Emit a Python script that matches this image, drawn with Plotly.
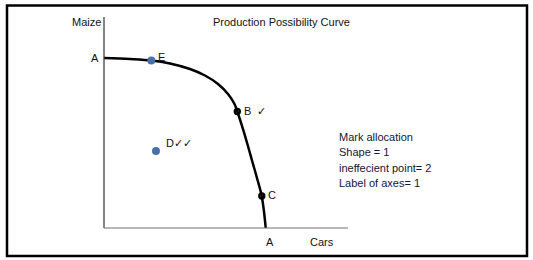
import plotly.graph_objects as go

# Production possibility curve (Cars on x, Maize on y)
curve_cars = [0.0, 1.066, 1.955, 2.705, 3.525, 4.139, 4.672, 5.082, 5.348, 5.463,
              5.684, 5.889, 6.078, 6.270, 6.455, 6.557, 6.627]
curve_maize = [8.057, 8.009, 7.938, 7.796, 7.536, 7.227, 6.825, 6.351, 5.877, 5.521,
               4.739, 3.934, 3.152, 2.370, 1.564, 0.782, 0.0]

# points on the curve
on_names = ["B", "C"]
on_cars = [5.463, 6.467]
on_maize = [5.521, 1.517]

# blue points
blue_names = ["E", "D"]
blue_cars = [1.94, 2.13]
blue_maize = [7.94, 3.65]

axis_max_cars = 10.0
axis_max_maize = 10.0

notes = ["Mark allocation", "Shape = 1", "ineffecient point= 2", "Label of axes= 1"]

FONT = "Liberation Sans"
fig = go.Figure()

fig.add_trace(go.Scatter(x=curve_cars, y=curve_maize, mode="lines",
                         line=dict(color="black", width=2.5, shape="spline", smoothing=1.0),
                         hoverinfo="skip"))
fig.add_trace(go.Scatter(x=on_cars, y=on_maize, mode="markers",
                         marker=dict(symbol="circle-open", size=5, color="black",
                                     line=dict(color="black", width=2.4))))
fig.add_trace(go.Scatter(x=blue_cars, y=blue_maize, mode="markers",
                         marker=dict(symbol="circle", size=8, color="#4a70a8")))

# axes lines
fig.add_shape(type="line", x0=0, y0=0, x1=0, y1=axis_max_maize,
              line=dict(color="#333333", width=1.2))
fig.add_shape(type="line", x0=0, y0=0, x1=axis_max_cars, y1=0,
              line=dict(color="#707070", width=1.2))

# frame
fig.add_shape(type="rect", xref="paper", yref="paper",
              x0=7/533, x1=527/533, y0=1-256/260, y1=1-5.5/260,
              line=dict(color="black", width=2.5))

ann = []
tf = dict(family=FONT, size=11, color="#111111")
base = dict(showarrow=False, font=tf, yanchor="middle")
# A on maize axis
ann.append(dict(base, x=curve_cars[0], y=curve_maize[0], text="A", xanchor="right", xshift=-3))
# A on cars axis
ann.append(dict(base, x=curve_cars[-1], y=curve_maize[-1], text="A", xanchor="center", xshift=4, yshift=-14))
# E
ann.append(dict(base, x=blue_cars[0], y=blue_maize[0], text="E", xanchor="left", xshift=5, yshift=3))
# D with ticks
ann.append(dict(base, x=blue_cars[1], y=blue_maize[1], text="D✓✓", xanchor="left", xshift=8, yshift=8))
# B with tick
ann.append(dict(base, x=on_cars[0], y=on_maize[0], text="B  ✓", xanchor="left", xshift=5, yshift=1))
# C
ann.append(dict(base, x=on_cars[1], y=on_maize[1], text="C", xanchor="left", xshift=4, yshift=1))
# axis labels & title
ann.append(dict(base, xref="paper", yref="paper", x=103/533, y=1-22/260, text="Maize", xanchor="right"))
ann.append(dict(base, xref="paper", yref="paper", x=322/533, y=1-242/260, text="Cars", xanchor="center"))
ann.append(dict(base, xref="paper", yref="paper", x=281/533, y=1-22/260,
                text="Production Possibility Curve", xanchor="center"))
for i, t in enumerate(notes):
    ann.append(dict(base, xref="paper", yref="paper", x=337/533, y=1-(137+15.4*i)/260, text=t,
                    xanchor="left", font=dict(family=FONT, size=11, color="#14143a")))

fig.update_layout(
    width=533, height=260,
    margin=dict(l=0, r=0, t=0, b=0),
    paper_bgcolor="white", plot_bgcolor="white",
    showlegend=False,
    annotations=ann,
    xaxis=dict(range=[-104/24.4, 429/24.4], visible=False, fixedrange=True),
    yaxis=dict(range=[-32/21.1, 228/21.1], visible=False, fixedrange=True),
)

fig.write_html("out.html")
